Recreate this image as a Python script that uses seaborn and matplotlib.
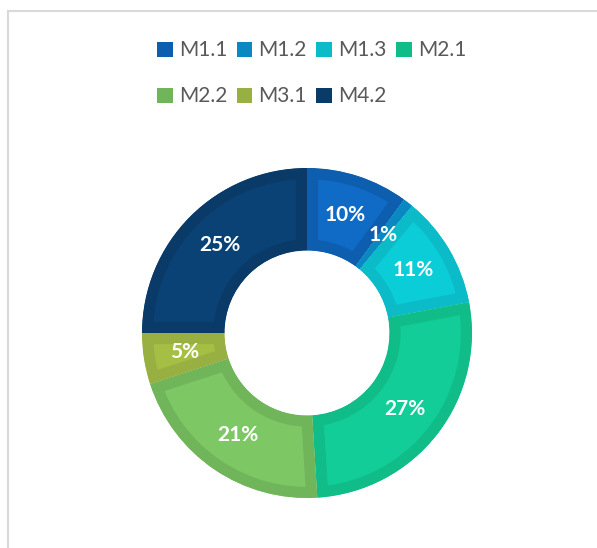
import matplotlib
matplotlib.use("Agg")
import matplotlib.pyplot as plt
from matplotlib.patches import Patch
from matplotlib.lines import Line2D
import seaborn as sns

# data
categories = ["M1.1", "M1.2", "M1.3", "M2.1", "M2.2", "M3.1", "M4.2"]
shares = [10, 1, 11, 27, 21, 5, 25]

# fill colours and darker rim colours
fill_colors = ["#0F6BC6", "#0A8DC8", "#0BCDD8", "#13CD98", "#7DC865", "#A5BF45", "#0B4275"]
rim_colors = ["#0D5EAF", "#0A88C2", "#0BBCC8", "#10BC88", "#70B55A", "#98AF42", "#093A68"]

sns.set_theme(style="white")
plt.rcParams["font.family"] = ["Lato", "DejaVu Sans"]

W, H = 597, 548
fig = plt.figure(figsize=(W / 100, H / 100), dpi=100)

# donut centred at (307, 333) px, outer radius 165 px
cx, cy, r = 307, 333, 165
ax = fig.add_axes([(cx - r) / W, (H - cy - r) / H, 2 * r / W, 2 * r / H])

wedges, texts, autotexts = ax.pie(
    shares,
    colors=fill_colors,
    startangle=90,
    counterclock=False,
    radius=1,
    autopct=lambda p: f"{p:.0f}%",
    pctdistance=0.75,
    wedgeprops=dict(width=0.5),
    textprops=dict(color="white", fontsize=15, fontweight="bold"),
)

# inner rim: thick stroke clipped to the wedge itself
for w, rc in zip(wedges, rim_colors):
    w.set_edgecolor(rc)
    w.set_linewidth(16)
    w.set_clip_on(True)
    w.set_clip_box(None)
    w.set_clip_path(w)

ax.set_xlim(-1, 1)
ax.set_ylim(-1, 1)
ax.set_aspect("equal")
ax.axis("off")

# legend, filled row by row like the original
order = [0, 4, 1, 5, 2, 6, 3]
handles = [Patch(facecolor=rim_colors[i], edgecolor="none") for i in order]
labels = [categories[i] for i in order]
fig.legend(
    handles,
    labels,
    loc="upper center",
    bbox_to_anchor=(0.522, 1 - 30 / H),
    ncol=4,
    frameon=False,
    fontsize=15,
    labelcolor="#595959",
    handlelength=0.75,
    handleheight=0.75,
    handletextpad=0.3,
    columnspacing=0.45,
    labelspacing=1.25,
    borderpad=0,
)

# chart frame (only top and left visible)
fig.add_artist(Line2D([8 / W, 8 / W], [0, 1 - 11 / H], color="#D9D9D9", lw=1.5))
fig.add_artist(Line2D([8 / W, 1], [1 - 11 / H, 1 - 11 / H], color="#D9D9D9", lw=1.5))

fig.savefig("out.png", dpi=100)
